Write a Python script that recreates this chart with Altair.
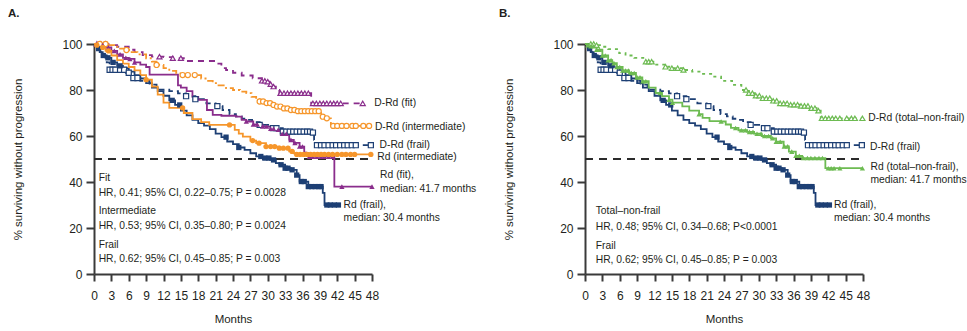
import altair as alt
import pandas as pd

# ---------------- data ----------------
# Kaplan-Meier step points: (month, % surviving without progression)
rd_frail = [(0,100),(0.5,98),(1,96.5),(1.5,95),(2,94),(3,92),(4,90.5),(5,89.5),(6,88),(7,86.5),
            (8,85),(9,83),(10,81),(11,79.5),(12,77.5),(13,75.5),(14,73.5),(15,71),(16,69),(17,67),
            (18,65.6),(19,64.5),(20,63),(21,61),(22,59.5),(23,57.6),(24,56.5),(25,55),(26,54),
            (27,52.5),(28,51.1),(29,50.4),(30.4,49.6),(31.4,48.2),(32,47.5),(33,46),(34,45.3),
            (35,43),(35.5,40.2),(37,38),(39.5,35.3),(39.8,30),(42.2,30)]
drd_frail = [(0,100),(0.5,98),(1,96.5),(1.5,95),(2.2,92),(2.7,88.8),(5.5,87.5),(6.7,85.2),(8,84),
             (9.6,82.3),(10.8,80.2),(13,79.5),(14.5,78.5),(15.9,77.3),(17.5,76),(19.4,74.2),(21,73),
             (22.2,71.3),(23.4,69.5),(24.5,68.5),(25.5,67.5),(26.3,67),(27.3,66),(28.6,64.8),
             (30.9,63.4),(32.6,61.9),(37.8,61.5),(38,58.3),(38.3,56),(47.8,56)]
rd_fit = [(0,100),(1,99.5),(2,98.5),(3,97),(4,95.5),(5,94),(6,93.5),(7,92),(8,91),(9,90),(9.6,86.7),
          (14.5,82),(15,81),(16,79.5),(17,77),(18,75.7),(19.5,71.3),(20.5,69.2),(22,68.8),(24.5,68.4),
          (25.5,67),(26.3,66.3),(27.5,65),(29.1,64.1),(30.5,63.2),(31.4,62.7),(32.5,61),(33.7,58.3),
          (34.5,57),(35.5,55.4),(36.3,52.5),(37,51),(41.5,38),(48,38)]
drd_fit = [(0,100),(1.5,100),(2.5,99.5),(4,98.8),(6,97.5),(7,96.5),(8.4,95.2),(10,94.5),(12,94.3),
           (13.6,93.8),(15.9,92.6),(21,91.5),(22,89.5),(22.8,88.7),(24,87.5),(25.5,86.3),(27.4,85.1),
           (29,84),(29.7,83.6),(30.3,82.5),(30.9,81.5),(31.4,80),(32,78.6),(37.5,74.2),(46.4,74.2)]
rd_int = [(0,100),(0.5,99.5),(1,98.5),(2,97),(3,95),(4,93),(5,91.5),(6,90),(7,88.5),(8,86.5),(9,84.5),
          (10,81.5),(11,78),(12,74.5),(13,72.2),(15.5,70),(17,67.3),(18.5,66),(19.9,64.8),(24.3,62.7),
          (25,61),(25.7,59.7),(27,58),(28,56.9),(29.7,55.4),(32,54.7),(33.7,53.3),(34.5,52.5),(35,52),
          (47.8,52)]
drd_int = [(0,100),(1.5,100),(2.5,99.5),(3.5,98.8),(4.5,98),(5.6,97.4),(6.5,96.5),(7.5,95.5),(9,93.8),
           (10,92.3),(10.8,90.9),(12,89.5),(13,88.3),(14.2,87.2),(15.3,86.5),(18.5,85),(19.5,84),
           (20.5,83),(21.5,82),(22.8,80.8),(24,80),(25.2,79.3),(26.3,78.6),(27.2,77),(28,76),(28.6,75),
           (29.5,74.3),(30.5,73.5),(31.4,72.8),(32.5,72),(33.7,71.3),(35,70.8),(39.2,68.4),(39.8,67.7),
           (40.9,64.4),(47.5,64.4)]
drd_tnf = [(0,100),(1,100),(2,99.5),(3,98.8),(4,97.8),(5.9,96),(7,95),(8.5,94),(10.5,92.3),(12,91),
           (13.9,90.1),(15,89.5),(16.8,88.7),(18.5,88),(20,87),(22,85.8),(23.5,84),(25.4,82.2),(27,80),
           (28.3,78.6),(29.5,77.5),(30.6,76.4),(32,75.3),(33.5,74.2),(35,73.6),(37,73.1),(38.7,72.1),
           (40,71),(40.7,67.7),(47.9,67.7)]
rd_tnf = [(0,100),(0.5,99.5),(1,99),(2,97.5),(3,95),(4,93),(4.7,91.7),(5.5,90),(6.5,88.5),(7.6,87.4),
          (8.8,85.5),(9.9,83.8),(11,81),(12.2,78.7),(13.3,77.3),(14.5,75.8),(15.1,74.5),(16.8,72.9),
          (18,71),(19.7,69.5),(20.3,67.9),(21.5,66.5),(23.5,66.3),(24.3,65),(25.2,63.5),(26.5,62.5),
          (28,61.8),(29.2,61),(30.5,60),(32.1,59),(33,57.5),(34.3,55.5),(35.2,53.2),(36.4,51.4),
          (37.5,50.4),(41.5,46),(47.9,46)]

# censored observations (months)
cens_rd_frail = [0.8,1.6,2.4,3.3,4.5,13.5,14.8,22.8,25,28.8,29.5,30.2,31,32.3,33,33.5,34.2,35,35.8,
                 36.3,37,37.6,38.2,38.8,39.2,40.2,40.8,41.5,42.2]
cens_drd_frail = [2.7,3.2,3.7,4.5,5.2,6.0,6.8,7.5,15.9,17.5,21.3,28.6,30.9,31.5,32.6,33.2,33.8,34.4,35,
                  35.6,36.2,36.8,37.3,37.8,38.5,39.2,39.8,40.5,41.2,41.8,42.5,43.2,43.8,44.5,45.2,47.8]
cens_rd_fit = [1.5,2.5,3.5,4.5,5.5,6.2,7,26.3,27.5,28.2,29.1,29.8,30.5,31,31.8,32.5,33.2,34,34.7,35.5,
               36,36.6,37.2,37.8,38.5,39.2,39.8,40.5,41.2,42.8,48]
cens_drd_fit = [0.5,1.2,2,11.3,13.6,15,29,29.5,30,30.5,31,32.2,32.8,33.4,34,34.6,35.2,35.8,36.4,37,
                37.8,38.4,39,39.6,40.2,40.8,41.4,42,42.6,46.4]
cens_rd_int = [0.5,1.5,2.5,9,15.3,23.4,27.4,28.5,29.7,30.5,31.2,32,32.7,33.5,34.2,35,35.6,36.2,36.8,
               37.4,38,38.6,39.2,39.8,40.5,41.2,42,42.8,43.5,44.3,45,47.8]
cens_drd_int = [1,2,5.6,10.8,15.3,16.2,17.4,28.6,29.2,29.8,30.4,31,31.6,32.2,32.8,33.4,34,34.6,35.2,
                35.8,36.4,37,37.6,38.2,38.8,39.5,40.2,41.3,42,42.8,43.6,44.6,45.2,46.5,47.5]
cens_drd_tnf = [1,1.5,2,10.5,11,11.5,13.9,15,16,17,27.8,28.3,28.9,29.5,30.1,30.7,31.3,31.9,32.5,33.1,
                33.7,34.3,34.9,35.5,36.1,36.7,37.3,37.9,38.5,39.1,39.7,40.3,40.9,41.5,42.1,42.7,43.3,
                44,45.2,46,46.6,47.9]
cens_rd_tnf = [0.5,1,1.5,2,2.5,3,3.5,4,4.5,5,5.5,6,6.5,7,7.5,8,8.5,9,9.5,10,10.5,13,14.5,15.1,19.7,
               23.5,26,27,27.7,28.4,29,29.7,30.4,31,31.7,32.4,33,33.7,34.4,35,35.7,36.4,37,37.7,38.4,
               39,39.7,40.4,41,42,42.5,43,44,47.9]

x_ticks = list(range(0, 49, 3))
y_ticks = [0, 20, 40, 60, 80, 100]

# series styling tables
series_names = ["Rd (frail)", "D-Rd (frail)", "Rd (fit)", "D-Rd (fit)", "Rd (intermediate)",
                "D-Rd (intermediate)", "Rd (total-non-frail)", "D-Rd (total-non-frail)"]
series_colors = ["#1d3f74", "#1d3f74", "#8a2d8c", "#8a2d8c", "#f6962b", "#f6962b", "#6dbb52", "#6dbb52"]
series_dash = [[1, 0], [6, 4], [1, 0], [6, 5], [1, 0], [7, 3, 2, 3], [1, 0], [3, 4]]
series_shape = ["square", "square", "triangle-up", "triangle-up", "circle", "circle",
                "triangle-up", "triangle-up"]

# annotation texts
ann_a = [("Fit", 0.8, 41.7), ("HR, 0.41; 95% CI, 0.22–0.75; P = 0.0028", 0.8, 35.2),
         ("Intermediate", 0.8, 27.2), ("HR, 0.53; 95% CI, 0.35–0.80; P = 0.0024", 0.8, 20.7),
         ("Frail", 0.8, 12.7), ("HR, 0.62; 95% CI, 0.45–0.85; P = 0.003", 0.8, 6.5),
         ("D-Rd (fit)", 48.4, 74.2), ("D-Rd (intermediate)", 48.5, 64.1), ("D-Rd (frail)", 49.3, 56.1),
         ("Rd (intermediate)", 48.9, 50.9), ("Rd (fit),", 49.4, 43.1), ("median: 41.7 months", 49.4, 36.9),
         ("Rd (frail),", 43.1, 30.1), ("median: 30.4 months", 43.1, 24.3)]
ann_b = [("Total–non-frail", 1.85, 27.2), ("HR, 0.48; 95% CI, 0.34–0.68; P<0.0001", 1.85, 20.4),
         ("Frail", 1.85, 12.3), ("HR, 0.62; 95% CI, 0.45–0.85; P = 0.003", 1.85, 6.2),
         ("D-Rd (total–non-frail)", 48.9, 67.7), ("D-Rd (frail)", 49.2, 55.4),
         ("Rd (total–non-frail),", 49.3, 46.7), ("median: 41.7 months", 49.3, 40.9),
         ("Rd (frail),", 43.0, 30.1), ("median: 30.4 months", 43.0, 24.4)]

FONT = "Liberation Sans"
TXT = "#231f20"
AX = "#3a3a3a"

CSCALE = alt.Scale(domain=series_names, range=series_colors)
DSCALE = alt.Scale(domain=series_names, range=series_dash)
SSCALE = alt.Scale(domain=series_names, range=series_shape)

XENC = alt.X("month:Q", scale=alt.Scale(domain=[0, 48], nice=False),
             axis=alt.Axis(values=x_ticks, title="Months", tickSize=7, labelPadding=9,
                           titlePadding=12, labelOverlap=False, labelFlush=False))
YENC = alt.Y("value:Q", scale=alt.Scale(domain=[0, 100], nice=False),
             axis=alt.Axis(values=y_ticks, title="% surviving without progression",
                           tickSize=8, labelPadding=4, titlePadding=38, labelOverlap=False,
                           labelFlush=False))


def value_at(pairs, t):
    v = pairs[0][1]
    for m, val in pairs:
        if m <= t:
            v = val
        else:
            break
    return v


def panel(curves, censors, ann, letter):
    line_rows, pt_rows = [], []
    for name, pairs in curves.items():
        for m, v in pairs:
            line_rows.append({"series": name, "month": m, "value": v})
    for name, ts in censors.items():
        for t in ts:
            pt_rows.append({"series": name, "month": t, "value": value_at(curves[name], t),
                            "hollow": name.startswith("D-Rd")})
    ldf = pd.DataFrame(line_rows)
    pdf = pd.DataFrame(pt_rows)

    half = alt.Chart(pd.DataFrame({"value": [50], "month": [0], "month2": [48]})).mark_rule(
        color="#2b2b2b", strokeWidth=1.8, strokeDash=[8, 6]).encode(
        x=XENC, x2="month2:Q", y=YENC)

    lines = alt.Chart(ldf).mark_line(interpolate="step-after", strokeWidth=1.8).encode(
        x=XENC, y=YENC,
        color=alt.Color("series:N", scale=CSCALE, legend=None),
        strokeDash=alt.StrokeDash("series:N", scale=DSCALE, legend=None),
        detail="series:N")

    hollow = alt.Chart(pdf).transform_filter("datum.hollow").mark_point(
        filled=False, fill="white", fillOpacity=1, size=26, strokeWidth=1.2, opacity=1).encode(
        x=XENC, y=YENC,
        color=alt.Color("series:N", scale=CSCALE, legend=None),
        shape=alt.Shape("series:N", scale=SSCALE, legend=None))
    filled = alt.Chart(pdf).transform_filter("!datum.hollow").mark_point(
        filled=True, size=28, opacity=1).encode(
        x=XENC, y=YENC,
        color=alt.Color("series:N", scale=CSCALE, legend=None),
        shape=alt.Shape("series:N", scale=SSCALE, legend=None))

    adf = pd.DataFrame(ann, columns=["text", "month", "value"])
    texts = alt.Chart(adf).mark_text(align="left", baseline="middle", font=FONT, fontSize=10.3,
                                     color=TXT).encode(x=XENC, y=YENC, text="text:N")

    lab = alt.Chart(pd.DataFrame({"t": [letter]})).mark_text(
        align="left", baseline="middle", font=FONT, fontSize=11.5, fontWeight="bold",
        color=TXT).encode(x=alt.value(-86), y=alt.value(-30.5), text="t:N")

    return alt.layer(half, lines, hollow, filled, texts, lab).properties(width=278, height=230)


A = panel({"Rd (frail)": rd_frail, "D-Rd (frail)": drd_frail, "Rd (fit)": rd_fit,
           "D-Rd (fit)": drd_fit, "Rd (intermediate)": rd_int, "D-Rd (intermediate)": drd_int},
          {"Rd (frail)": cens_rd_frail, "D-Rd (frail)": cens_drd_frail, "Rd (fit)": cens_rd_fit,
           "D-Rd (fit)": cens_drd_fit, "Rd (intermediate)": cens_rd_int,
           "D-Rd (intermediate)": cens_drd_int},
          ann_a, "A.")
B = panel({"Rd (frail)": rd_frail, "D-Rd (frail)": drd_frail, "Rd (total-non-frail)": rd_tnf,
           "D-Rd (total-non-frail)": drd_tnf},
          {"Rd (frail)": cens_rd_frail, "D-Rd (frail)": cens_drd_frail,
           "Rd (total-non-frail)": cens_rd_tnf, "D-Rd (total-non-frail)": cens_drd_tnf},
          ann_b, "B.")

chart = alt.hconcat(A, B, spacing=213, bounds="flush").properties(
    padding={"left": 8, "top": 7, "right": 0, "bottom": 0},
    background="white"
).configure_view(strokeWidth=0).configure_axis(
    grid=False, domainColor=AX, domainWidth=2, tickColor=AX, tickWidth=2,
    labelFont=FONT, labelFontSize=12, labelColor=TXT, titleFont=FONT, titleFontSize=11.5,
    titleFontWeight="normal", titleColor=TXT
)

chart.save("out.html", embed_options={"renderer": "svg", "actions": False})
